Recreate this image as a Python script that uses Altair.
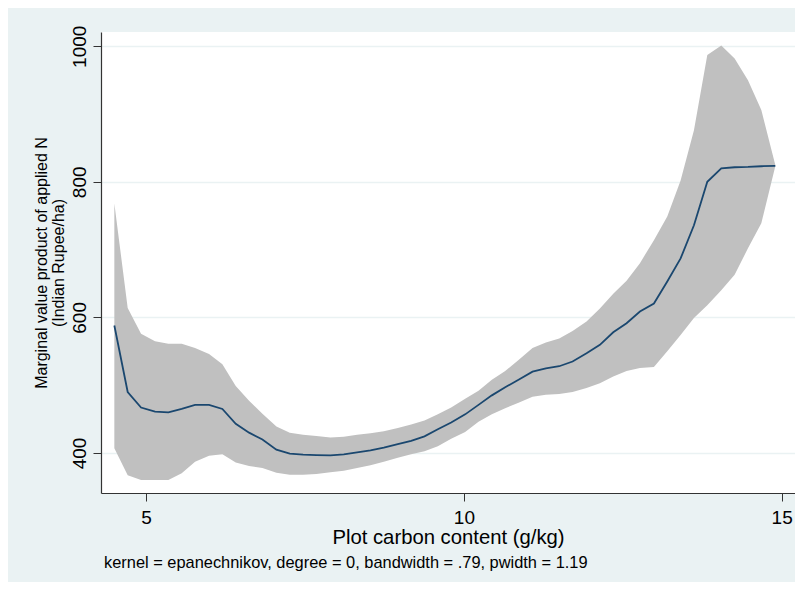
import altair as alt
import pandas as pd

carbon = [4.50, 4.71, 4.92, 5.14, 5.35, 5.56, 5.77, 5.99, 6.20, 6.41,
          6.62, 6.83, 7.05, 7.26, 7.47, 7.68, 7.90, 8.11, 8.32, 8.53,
          8.74, 8.96, 9.17, 9.38, 9.59, 9.80, 10.02, 10.23, 10.44, 10.65,
          10.86, 11.08, 11.29, 11.50, 11.71, 11.93, 12.14, 12.35, 12.56, 12.77,
          12.99, 13.20, 13.41, 13.62, 13.83, 14.05, 14.26, 14.47, 14.68, 14.90]
mvp = [588, 490, 467, 461, 460, 465, 471, 471, 465, 443,
       430, 420, 405, 399, 397.5, 397, 396.5, 398, 401, 404,
       408, 413, 418, 424.5, 435, 445, 457, 471, 485, 497,
       508, 520, 525, 528, 535, 547, 559.5, 578, 591.5, 608.6,
       620.5, 653, 687, 736, 800, 820, 821.5, 822, 823, 823.6]
upper = [768, 614, 576, 565, 561, 561, 555, 546, 531, 499,
         477, 458, 439, 430, 427, 425, 423, 424, 427, 429,
         432, 437, 442, 448, 457, 467, 480, 492, 508, 521,
         537, 555, 563, 569, 580, 594, 613, 635, 654, 680,
         714, 749, 802, 876, 987, 1001, 982, 950, 906, 825]
lower = [407, 367, 360, 360, 360, 370, 387, 396, 398, 386,
         381, 378, 371, 368, 368, 369, 371.5, 374, 378, 382,
         387, 393, 398, 402.5, 410, 421, 431, 446, 457, 466,
         474, 483, 486, 487, 490, 496, 503, 513, 521, 525.5,
         526.7, 550, 574, 599, 618, 640, 663, 702, 739, 823]

x_ticks = [5, 10, 15]
y_ticks = [400, 600, 800, 1000]
note = ["kernel = epanechnikov, degree = 0, bandwidth = .79, pwidth = 1.19"]

df = pd.DataFrame({"x": carbon, "y": mvp, "hi": upper, "lo": lower})
note_df = pd.DataFrame({"t": note})

BG = "#EAF2F3"
FONT = "Liberation Sans"

xscale = alt.Scale(domain=[4.29, 15.21], nice=False, zero=False)
yscale = alt.Scale(domain=[341, 1021], nice=False, zero=False)

xaxis = alt.Axis(
    values=x_ticks, format="d", grid=False, title="Plot carbon content (g/kg)",
    labelFont=FONT, labelFontSize=19, labelColor="black", labelPadding=7,
    tickSize=8, tickColor="#333333", domainColor="#333333", domainWidth=1.2,
    titleFont=FONT, titleFontSize=20.3, titleFontWeight="normal", titleColor="black",
    titleX=347, titleY=50, titleBaseline="alphabetic", titleAlign="center",
)
yaxis = alt.Axis(
    values=y_ticks, format="d", grid=True, gridColor=BG, gridWidth=1.6,
    title=["Marginal value product of applied N", "(Indian Rupee/ha)"],
    labelFont=FONT, labelFontSize=19, labelColor="black", labelAngle=270,
    labelAlign="center", labelBaseline="alphabetic", labelPadding=7.5,
    tickSize=8, tickColor="#333333", domainColor="#333333", domainWidth=1.2,
    titleFont=FONT, titleFontSize=16, titleFontWeight="normal", titleColor="black",
    titleAngle=270, titleAlign="center", titleBaseline="alphabetic",
    titleX=-54.5, titleY=230.5, titleLineHeight=17,
)

base = alt.Chart(df)
band = base.mark_area(color="#C0C0C0", opacity=1).encode(
    x=alt.X("x:Q", scale=xscale, axis=xaxis),
    y=alt.Y("hi:Q", scale=yscale, axis=yaxis),
    y2="lo:Q",
)
line = base.mark_line(color="#1A476F", strokeWidth=1.8).encode(
    x=alt.X("x:Q", scale=xscale),
    y=alt.Y("y:Q", scale=yscale),
)
txt = alt.Chart(note_df).mark_text(
    align="left", baseline="alphabetic", font=FONT, fontSize=16.4, color="black"
).encode(x=alt.value(3), y=alt.value(536), text="t:N")

chart = alt.layer(band, line, txt).properties(
    width=694, height=461,
    background=BG,
    padding={"left": 93, "top": 24, "right": 0, "bottom": 89},
    autosize=alt.AutoSizeParams(type="none"),
).configure_view(fill="white", stroke=None)

chart.save("out.html", embed_options={"renderer": "svg", "actions": False})
